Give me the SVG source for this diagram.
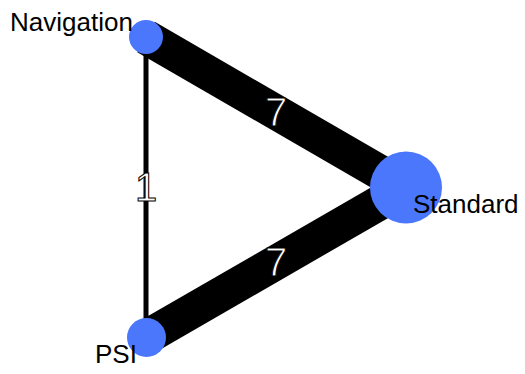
<svg xmlns="http://www.w3.org/2000/svg" width="525" height="374" viewBox="0 0 525 374">
<style>
.edge{stroke:#000;fill:none;stroke-linecap:butt}
.elabel{font-family:"Liberation Sans",Arial,sans-serif;font-size:40px;fill:#fff;stroke:#000;stroke-width:1px;text-anchor:middle;dominant-baseline:central}
.node{fill:#4a77fb}
.nlabel{font-family:"Liberation Sans",Arial,sans-serif;font-size:26px;fill:#000}
</style>
<rect width="525" height="374" fill="#fff"/>
<g id="edges">
<line class="edge" x1="146" y1="37" x2="406" y2="187.5" stroke-width="35"/>
<line class="edge" x1="146" y1="337.5" x2="406" y2="187.5" stroke-width="35"/>
<line class="edge" x1="146" y1="37" x2="146" y2="337.5" stroke-width="5"/>
<text class="elabel" x="276" y="112">7</text>
<text class="elabel" x="276" y="262">7</text>
<text class="elabel" x="146" y="187">1</text>
</g>
<g id="node-navigation">
<circle class="node" cx="146" cy="37" r="17"/>
<text class="nlabel" x="10" y="31">Navigation</text>
</g>
<g id="node-standard">
<circle class="node" cx="406" cy="187.5" r="36"/>
<text class="nlabel" x="413" y="213">Standard</text>
</g>
<g id="node-psi">
<circle class="node" cx="146.5" cy="337.5" r="19.5"/>
<text class="nlabel" x="95" y="363">PSI</text>
</g>
</svg>
